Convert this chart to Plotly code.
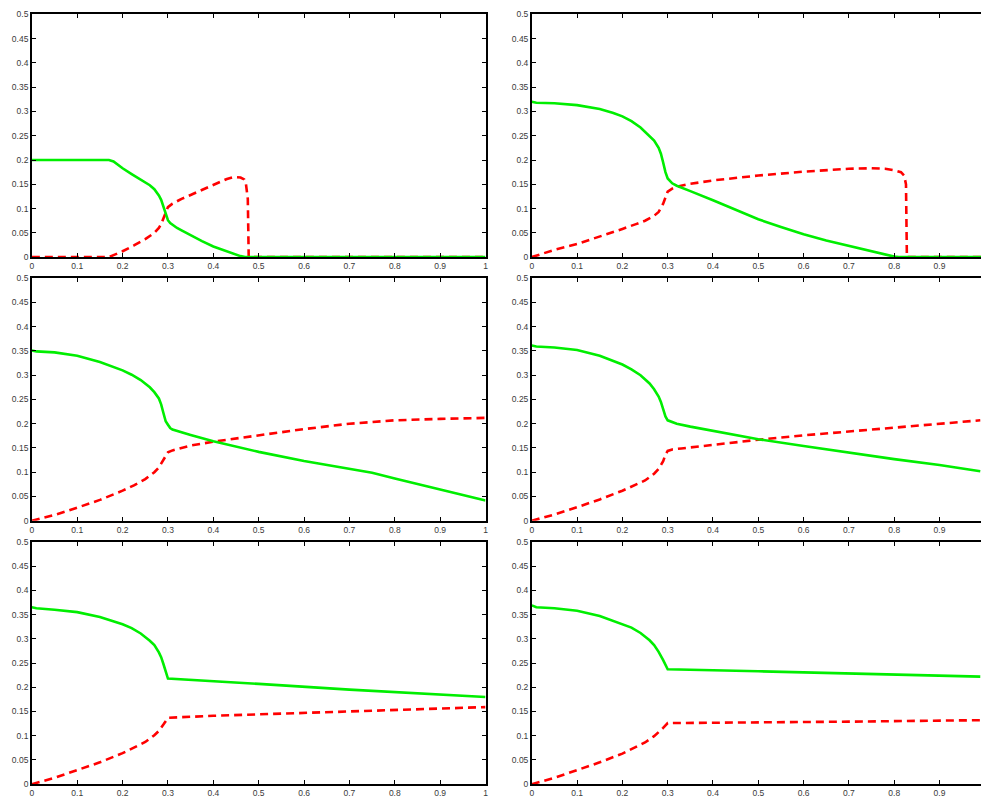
import plotly.graph_objects as go

# ---------------- data ----------------
p1_green_x = [0, 0.17, 0.18, 0.19, 0.2, 0.22, 0.24, 0.26, 0.27, 0.275, 0.28, 0.285, 0.29, 0.293, 0.297, 0.30, 0.305, 0.31, 0.32, 0.33, 0.35, 0.375, 0.40, 0.425, 0.45, 0.46, 0.47, 1.0]
p1_green_y = [0.2, 0.2, 0.197, 0.19, 0.183, 0.171, 0.16, 0.148, 0.14, 0.134, 0.127, 0.118, 0.105, 0.095, 0.083, 0.076, 0.07, 0.066, 0.06, 0.055, 0.045, 0.033, 0.022, 0.013, 0.005, 0.002, 0.0, 0.0]
p1_red_x = [0, 0.17, 0.18, 0.2, 0.225, 0.25, 0.27, 0.28, 0.285, 0.29, 0.295, 0.3, 0.31, 0.33, 0.35, 0.4, 0.43, 0.445, 0.46, 0.468, 0.472, 0.476, 0.478, 1.0]
p1_red_y = [0, 0.0, 0.004, 0.012, 0.024, 0.037, 0.05, 0.06, 0.068, 0.08, 0.093, 0.103, 0.11, 0.12, 0.128, 0.148, 0.161, 0.165, 0.164, 0.16, 0.15, 0.12, 0.0, 0.0]

p2_green_x = [0, 0.01, 0.05, 0.1, 0.15, 0.18, 0.2, 0.22, 0.24, 0.26, 0.27, 0.28, 0.285, 0.29, 0.295, 0.3, 0.305, 0.31, 0.32, 0.33, 0.35, 0.4, 0.45, 0.5, 0.55, 0.6, 0.65, 0.7, 0.75, 0.78, 0.8, 0.81, 1.0]
p2_green_y = [0.32, 0.318, 0.317, 0.313, 0.305, 0.297, 0.29, 0.28, 0.267, 0.25, 0.24, 0.225, 0.213, 0.195, 0.175, 0.162, 0.156, 0.152, 0.147, 0.143, 0.136, 0.117, 0.097, 0.078, 0.062, 0.047, 0.034, 0.023, 0.012, 0.005, 0.001, 0.0, 0.0]
p2_red_x = [0, 0.05, 0.1, 0.15, 0.2, 0.23, 0.25, 0.27, 0.28, 0.29, 0.295, 0.3, 0.31, 0.32, 0.35, 0.4, 0.5, 0.6, 0.7, 0.75, 0.78, 0.8, 0.815, 0.822, 0.826, 0.828, 1.0]
p2_red_y = [0, 0.015, 0.027, 0.042, 0.058, 0.068, 0.075, 0.085, 0.093, 0.11, 0.125, 0.135, 0.141, 0.145, 0.151, 0.158, 0.168, 0.176, 0.182, 0.183, 0.182, 0.179, 0.175, 0.168, 0.15, 0.0, 0.0]

p3_green_x = [0, 0.01, 0.05, 0.1, 0.15, 0.2, 0.22, 0.24, 0.26, 0.27, 0.28, 0.285, 0.29, 0.295, 0.3, 0.305, 0.31, 0.32, 0.35, 0.4, 0.5, 0.6, 0.7, 0.75, 0.8, 0.9, 1.0]
p3_green_y = [0.351, 0.349, 0.347, 0.34, 0.327, 0.31, 0.301, 0.29, 0.275, 0.265, 0.252, 0.24, 0.222, 0.205, 0.198, 0.191, 0.188, 0.185, 0.177, 0.164, 0.142, 0.123, 0.108, 0.099, 0.087, 0.064, 0.042]
p3_red_x = [0, 0.05, 0.1, 0.15, 0.2, 0.225, 0.25, 0.27, 0.28, 0.29, 0.295, 0.3, 0.31, 0.33, 0.35, 0.4, 0.5, 0.6, 0.7, 0.75, 0.8, 0.9, 1.0]
p3_red_y = [0, 0.012, 0.027, 0.043, 0.062, 0.073, 0.086, 0.1, 0.11, 0.125, 0.135, 0.141, 0.145, 0.15, 0.155, 0.163, 0.176, 0.189, 0.2, 0.204, 0.207, 0.21, 0.212]

p4_green_x = [0, 0.01, 0.05, 0.1, 0.15, 0.2, 0.22, 0.24, 0.26, 0.27, 0.28, 0.285, 0.29, 0.295, 0.3, 0.31, 0.32, 0.35, 0.4, 0.5, 0.6, 0.7, 0.8, 0.9, 0.99]
p4_green_y = [0.361, 0.359, 0.357, 0.352, 0.34, 0.322, 0.312, 0.3, 0.283, 0.271, 0.256, 0.245, 0.23, 0.215, 0.207, 0.203, 0.2, 0.194, 0.185, 0.168, 0.154, 0.14, 0.127, 0.115, 0.102]
p4_red_x = [0, 0.05, 0.1, 0.15, 0.2, 0.225, 0.25, 0.27, 0.28, 0.29, 0.295, 0.3, 0.31, 0.33, 0.4, 0.5, 0.6, 0.7, 0.8, 0.9, 0.99]
p4_red_y = [0, 0.013, 0.028, 0.044, 0.062, 0.072, 0.083, 0.097, 0.107, 0.123, 0.136, 0.144, 0.147, 0.149, 0.157, 0.167, 0.176, 0.184, 0.192, 0.2, 0.207]

p5_green_x = [0, 0.01, 0.05, 0.1, 0.15, 0.2, 0.22, 0.24, 0.26, 0.27, 0.28, 0.285, 0.29, 0.295, 0.3, 0.5, 0.7, 1.0]
p5_green_y = [0.365, 0.363, 0.36, 0.355, 0.345, 0.33, 0.322, 0.311, 0.296, 0.287, 0.272, 0.262, 0.248, 0.232, 0.218, 0.207, 0.195, 0.18]
p5_red_x = [0, 0.05, 0.1, 0.15, 0.2, 0.225, 0.25, 0.27, 0.28, 0.29, 0.3, 0.4, 0.5, 0.7, 0.9, 1.0]
p5_red_y = [0, 0.013, 0.029, 0.045, 0.064, 0.075, 0.087, 0.101, 0.11, 0.123, 0.137, 0.141, 0.144, 0.151, 0.156, 0.159]

p6_green_x = [0, 0.01, 0.05, 0.1, 0.15, 0.2, 0.22, 0.24, 0.26, 0.27, 0.28, 0.29, 0.3, 0.5, 0.7, 0.99]
p6_green_y = [0.369, 0.365, 0.363, 0.358, 0.347, 0.331, 0.323, 0.312, 0.297, 0.287, 0.273, 0.256, 0.237, 0.233, 0.229, 0.222]
p6_red_x = [0, 0.05, 0.1, 0.15, 0.2, 0.225, 0.25, 0.27, 0.28, 0.29, 0.3, 0.5, 0.7, 0.99]
p6_red_y = [0, 0.013, 0.029, 0.045, 0.063, 0.074, 0.086, 0.099, 0.107, 0.116, 0.126, 0.127, 0.129, 0.132]

panels = [
    (p1_green_x, p1_green_y, p1_red_x, p1_red_y),
    (p2_green_x, p2_green_y, p2_red_x, p2_red_y),
    (p3_green_x, p3_green_y, p3_red_x, p3_red_y),
    (p4_green_x, p4_green_y, p4_red_x, p4_red_y),
    (p5_green_x, p5_green_y, p5_red_x, p5_red_y),
    (p6_green_x, p6_green_y, p6_red_x, p6_red_y),
]

x_ticks = [0, 0.1, 0.2, 0.3, 0.4, 0.5, 0.6, 0.7, 0.8, 0.9, 1]
y_ticks = [0, 0.05, 0.1, 0.15, 0.2, 0.25, 0.3, 0.35, 0.4, 0.45, 0.5]

# ---------------- layout ----------------
W, H = 984, 800
x_doms = [(30 / W, 486 / W), (532.5 / W, 1.0)]
x_ranges = [[0, 1], [0, 0.9916]]
y_doms = [(1 - 255.3 / H, 1 - 9.5 / H), (1 - 522.3 / H, 1 - 276.6 / H), (1 - 789 / H, 1 - 543.7 / H)]

fig = go.Figure()
tickfont = dict(family="Liberation Sans, Arial, sans-serif", size=8.5, color="#3a3a3a")

for i, (gx, gy, rx, ry) in enumerate(panels):
    row, col = divmod(i, 2)
    n = i + 1
    xa = "x" if n == 1 else f"x{n}"
    ya = "y" if n == 1 else f"y{n}"
    fig.add_trace(go.Scatter(x=rx, y=ry, mode="lines", xaxis=xa, yaxis=ya,
                             line=dict(color="#ff0000", width=2.6, dash="8px,5px"),
                             showlegend=False, hoverinfo="skip"))
    fig.add_trace(go.Scatter(x=gx, y=gy, mode="lines", xaxis=xa, yaxis=ya,
                             line=dict(color="#00ee00", width=2.6),
                             showlegend=False, hoverinfo="skip"))
    common = dict(showline=True, linecolor="black", linewidth=1.5,
                  ticks="inside", ticklen=4, tickwidth=1, tickcolor="black",
                  showgrid=False, zeroline=False, tickfont=tickfont, fixedrange=True)
    fig.update_layout(**{
        ("xaxis" if n == 1 else f"xaxis{n}"): dict(
            domain=x_doms[col], range=x_ranges[col], anchor=ya, mirror="allticks",
            tickmode="array", tickvals=x_ticks, ticktext=[("%g" % v) for v in x_ticks], **common),
        ("yaxis" if n == 1 else f"yaxis{n}"): dict(
            domain=y_doms[row], range=[0, 0.5], anchor=xa,
            mirror=("allticks" if col == 0 else False),
            tickmode="array", tickvals=y_ticks, ticktext=[("%g" % v) for v in y_ticks], **common),
    })

fig.update_layout(width=W, height=H, margin=dict(l=0, r=0, t=0, b=0),
                  paper_bgcolor="white", plot_bgcolor="white", showlegend=False)

fig.write_html("out.html")
